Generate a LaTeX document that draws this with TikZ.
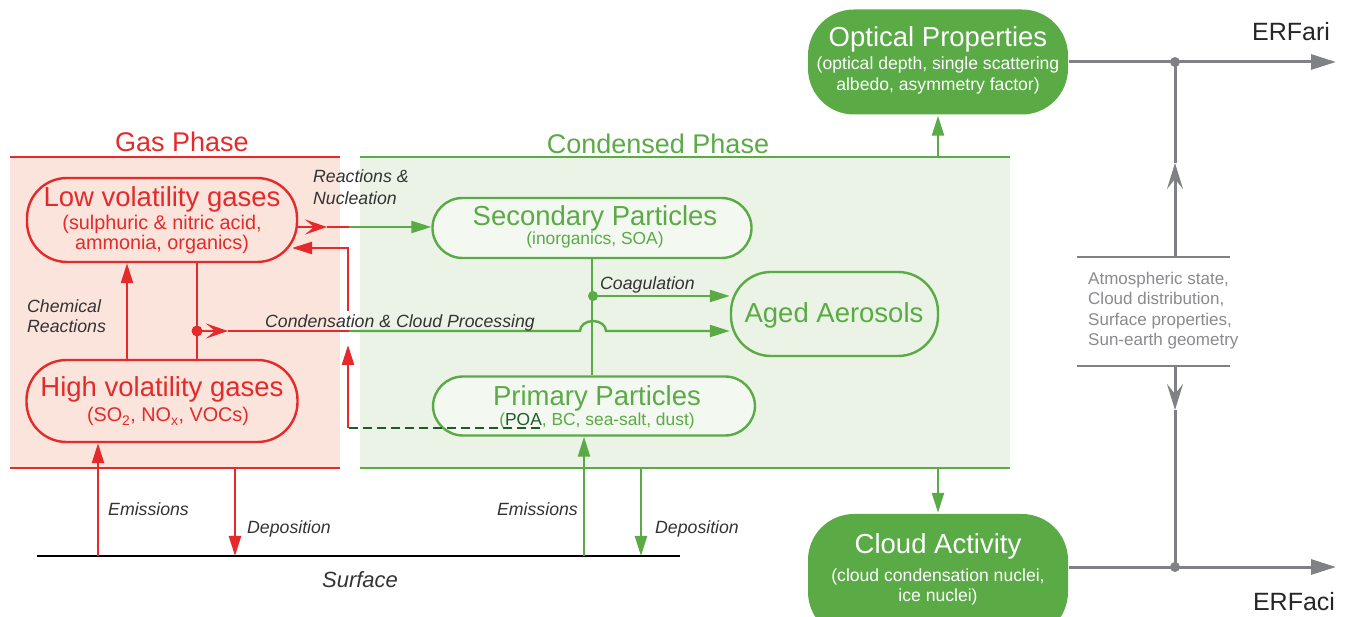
\documentclass[tikz,border=0pt]{standalone}
\usepackage{fontspec}
\setmainfont{Liberation Sans}
\usetikzlibrary{arrows.meta}
\definecolor{cred}{HTML}{E42A2A}
\definecolor{cgreen}{HTML}{5AAA46}
\definecolor{pinkfill}{HTML}{FBE4DC}
\definecolor{greenfill}{HTML}{EAF3E5}
\definecolor{boxfill}{HTML}{F3F8F0}
\definecolor{cgrey}{HTML}{808185}
\definecolor{tgrey}{HTML}{8A8A8E}
\definecolor{dgreen}{HTML}{1E5B2A}
\definecolor{labelc}{HTML}{333333}
\newcommand{\fsz}[1]{\fontsize{#1}{#1}\selectfont}
\begin{document}
\begin{tikzpicture}[x=1pt,y=-1pt,
  box/.style={rectangle, line width=2.4pt, inner sep=0pt},
  redbox/.style={box, draw=cred, rounded corners=40pt},
  greenbox/.style={box, draw=cgreen, fill=boxfill, rounded corners=30pt},
  agedbox/.style={box, draw=cgreen, rounded corners=40pt},
  solidbox/.style={box, fill=cgreen, draw=none, rounded corners=46pt},
  txt/.style={anchor=base, inner sep=0pt},
  rtitle/.style={txt, text=cred, font=\fsz{27.5}},
  rsub/.style={txt, text=cred, font=\fsz{19.8}},
  gtitle/.style={txt, text=cgreen, font=\fsz{27.5}},
  gsub/.style={txt, text=cgreen, font=\fsz{17.4}},
  wtitle/.style={txt, text=white, font=\fsz{27.5}},
  wsub/.style={txt, text=white, font=\fsz{17.6}},
  lab/.style={txt, text=labelc, font=\fsz{17.7}\itshape},
  atm/.style={txt, anchor=base west, text=tgrey, font=\fsz{17}},
  erf/.style={txt, text=black!85, font=\fsz{25}},
  redline/.style={draw=cred, line width=2.4pt},
  greenline/.style={draw=cgreen, line width=2.4pt},
  greyline/.style={draw=cgrey, line width=3pt},
  endtip/.style={-{Triangle[length=20pt,width=12pt]}},
  midtip/.style={-{Stealth[length=22pt,width=15pt,inset=9pt]}},
  greytip/.style={-{Triangle[length=25pt,width=15pt]}},
  greymid/.style={-{Stealth[length=26pt,width=16pt,inset=10pt]}},
  dotnode/.style={circle, inner sep=0pt, minimum size=#1},
]
\useasboundingbox (0,0) rectangle (1353,617);

% phase regions
\fill[pinkfill] (10,157) rectangle (340,468);
\fill[greenfill] (360,157) rectangle (1010,468);
\draw[redline] (10,157) -- (340,157) (10,468) -- (340,468);
\draw[greenline] (360,157) -- (1010,157) (360,468) -- (1010,468);
\node[txt, text=cred, font=\fsz{27}] (gasT) at (182,152) {Gas Phase};
\node[txt, text=cgreen, font=\fsz{27}] (condT) at (658,154) {Condensed Phase};

% boxes
\node[redbox, minimum width=270pt, minimum height=84pt] (lowvol) at (162,220) {};
\node[rtitle] (lowvolT) at (162,207) {Low volatility gases};
\node[rsub] (lowvolS1) at (162,230) {(sulphuric \& nitric acid,};
\node[rsub] (lowvolS2) at (162,250) {ammonia, organics)};

\node[redbox, minimum width=271pt, minimum height=82pt] (highvol) at (162,401) {};
\node[rtitle] (highvolT) at (162,397) {High volatility gases};
\node[rsub] (highvolS) at (168,422) {(SO\textsubscript{2}, NO\textsubscript{x}, VOCs)};

\node[greenbox, minimum width=319pt, minimum height=60pt] (second) at (592,228) {};
\node[gtitle] (secondT) at (595,226) {Secondary Particles};
\node[gsub] (secondS) at (595,245) {(inorganics, SOA)};

\node[greenbox, minimum width=322pt, minimum height=59pt] (primary) at (594,406) {};
\node[gtitle] (primaryT) at (597,406) {Primary Particles};

\node[agedbox, minimum width=207pt, minimum height=84pt] (aged) at (834.5,314) {};
\node[gtitle] (agedT) at (834,323) {Aged Aerosols};

\node[solidbox, minimum width=260pt, minimum height=105pt] (optical) at (938,62) {};
\node[wtitle] (opticalT) at (938,47) {Optical Properties};
\node[wsub] (opticalS1) at (938,70) {(optical depth, single scattering};
\node[wsub] (opticalS2) at (938,91) {albedo, asymmetry factor)};

\node[solidbox, minimum width=260pt, minimum height=124pt] (cloud) at (938,576) {};
\node[wtitle] (cloudT) at (938,554) {Cloud Activity};
\node[wsub] (cloudS1) at (938,581) {(cloud condensation nuclei,};
\node[wsub] (cloudS2) at (938,601) {ice nuclei)};

% surface
\coordinate (sL) at (37,556);
\coordinate (sR) at (680,556);
\draw[black, line width=2.8pt] (sL) -- (sR);
\node[lab, font=\fsz{22}\itshape] (surfT) at (360,587) {Surface};

% gas phase connectors
\coordinate (e1) at (98,556);
\draw[redline, endtip] (e1) -- (highvol.south -| e1);
\node[lab, anchor=base west] (em1) at (108,516) {Emissions};
\coordinate (d1t) at (235,468);
\coordinate (d1b) at (235,556);
\draw[redline, endtip] (d1t) -- (d1b);
\node[lab, anchor=base west] (dep1) at (247,533) {Deposition};

\coordinate (cr) at (127,360);
\draw[redline, endtip] (highvol.north -| cr) -- (lowvol.south -| cr);
\node[lab, anchor=base west] (chem1) at (27,313) {Chemical};
\node[lab, anchor=base west] (chem2) at (27,333) {Reactions};

\coordinate (vx) at (197,331);
\draw[redline] (lowvol.south -| vx) -- (highvol.north -| vx);
\node[dotnode=11pt, fill=cred] (rdot) at (vx) {};
\coordinate (cm1) at (228,331);
\coordinate (cb) at (349,331);
\draw[redline, midtip] (rdot.center) -- (cm1);
\draw[redline] (cm1) -- (cb);
\coordinate (hop1) at (580,331);
\draw[greenline, endtip] (cb) -- (hop1) arc[start angle=180, end angle=360, x radius=13, y radius=10] -- (aged.west |- cb);
\node[lab, anchor=base west] (condL) at (265,328) {Condensation \& Cloud Processing};

\coordinate (rn0) at (297,227);
\coordinate (rn1) at (327,227);
\coordinate (rnb) at (349,227);
\draw[redline, midtip] (rn0) -- (rn1);
\draw[redline] (rn1) -- (rnb);
\draw[greenline, endtip] (rnb) -- (second.west |- rnb);
\node[lab, anchor=base west] (rn1L) at (313,183) {Reactions \&};
\node[lab, anchor=base west] (rn2L) at (313,205) {Nucleation};

% evaporation back to gas
\coordinate (ev0) at (540,428);
\coordinate (ev1) at (348,428);
\coordinate (ev2) at (348,345);
\coordinate (ev3) at (348,311);
\coordinate (ev4) at (348,248);
\coordinate (ev5) at (292,248);
\node[gsub] (primaryS) at (597,426) {(\textcolor{dgreen}{POA}, BC, sea-salt, dust)};
\draw[dgreen, line width=2pt, dash pattern=on 9pt off 5pt] (ev0) -- (ev1);
\draw[redline, endtip] (ev1) -- (ev2);
\draw[redline, endtip] (ev3) -- (ev4) -- (ev5);

% condensed phase connectors
\draw[greenline] (second.south) -- (second.south |- primary.north);
\node[dotnode=10pt, fill=cgreen] (gdot) at (593,296) {};
\draw[greenline, endtip] (gdot.center) -- (aged.west |- gdot);
\node[lab, anchor=base west] (coagL) at (600,290) {Coagulation};

\coordinate (e2) at (584,556);
\draw[greenline, endtip] (e2) -- (primary.south -| e2);
\node[lab, anchor=base east] (em2) at (578,516) {Emissions};
\coordinate (d2t) at (641,468);
\coordinate (d2b) at (641,556);
\draw[greenline, endtip] (d2t) -- (d2b);
\node[lab, anchor=base west] (dep2) at (655,533) {Deposition};

\coordinate (ct) at (938,157);
\coordinate (cbm) at (938,468);
\draw[greenline, endtip] (ct) -- (optical.south);
\draw[greenline, endtip] (cbm) -- (cloud.north);

% grey side
\coordinate (ariE) at (1336,62);
\coordinate (aciE) at (1336,567);
\draw[greyline, greytip] (optical.east) -- (ariE);
\draw[greyline, greytip] (cloud.east |- aciE) -- (aciE);
\node[dotnode=10pt, fill=cgrey] (gd1) at (1175,62) {};
\node[dotnode=10pt, fill=cgrey] (gd2) at (1175,567) {};
\coordinate (tb1) at (1077,257);
\coordinate (tb2) at (1230,257);
\coordinate (bb1) at (1077,366);
\coordinate (bb2) at (1230,366);
\draw[cgrey, line width=2.5pt] (tb1) -- (tb2) (bb1) -- (bb2);
\coordinate (up0) at (1175,257);
\coordinate (up1) at (1175,163);
\coordinate (dn0) at (1175,366);
\coordinate (dn1) at (1175,410);
\draw[greyline, greymid] (up0) -- (up1);
\draw[greyline] (up1) -- (gd1.center);
\draw[greyline, greymid] (dn0) -- (dn1);
\draw[greyline] (dn1) -- (gd2.center);
\node[atm] (atm1) at (1088,285) {Atmospheric state,};
\node[atm] (atm2) at (1088,305) {Cloud distribution,};
\node[atm] (atm3) at (1088,326) {Surface properties,};
\node[atm] (atm4) at (1088,346) {Sun-earth geometry};
\node[erf] (ari) at (1291,41) {ERFari};
\node[erf] (aci) at (1294,610) {ERFaci};
\end{tikzpicture}
\end{document}
